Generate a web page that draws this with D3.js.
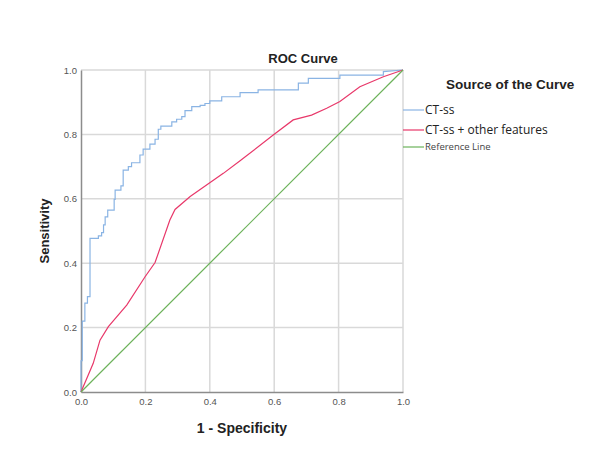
<!DOCTYPE html>
<html>
<head>
<meta charset="utf-8">
<script src="https://cdn.jsdelivr.net/npm/d3@7"></script>
<style>
  body { margin: 0; background: #fff; }
  text { font-family: "Liberation Sans", Arial, sans-serif; }
</style>
</head>
<body>
<div class="chart"></div>
<script>
// ROC points (x = 1 - specificity, y = sensitivity)
const ctssX = [0, 0, 0.004, 0.004, 0.012, 0.012, 0.02, 0.02, 0.028, 0.028, 0.054, 0.054, 0.064, 0.064, 0.07, 0.07, 0.075, 0.075, 0.083, 0.083, 0.103, 0.103, 0.106, 0.106, 0.124, 0.124, 0.131, 0.131, 0.147, 0.147, 0.157, 0.157, 0.183, 0.183, 0.193, 0.193, 0.214, 0.214, 0.23, 0.23, 0.24, 0.24, 0.248, 0.248, 0.282, 0.282, 0.297, 0.297, 0.313, 0.313, 0.323, 0.323, 0.344, 0.344, 0.37, 0.37, 0.385, 0.385, 0.40, 0.40, 0.437, 0.437, 0.494, 0.494, 0.55, 0.55, 0.675, 0.675, 0.706, 0.706, 0.804, 0.804, 0.939, 0.939, 1];
const ctssY = [0, 0.097, 0.097, 0.22, 0.22, 0.276, 0.276, 0.296, 0.296, 0.477, 0.477, 0.485, 0.485, 0.495, 0.495, 0.519, 0.519, 0.544, 0.544, 0.565, 0.565, 0.598, 0.598, 0.627, 0.627, 0.64, 0.64, 0.689, 0.689, 0.70, 0.70, 0.712, 0.712, 0.736, 0.736, 0.754, 0.754, 0.770, 0.770, 0.785, 0.785, 0.816, 0.816, 0.826, 0.826, 0.839, 0.839, 0.847, 0.847, 0.855, 0.855, 0.874, 0.874, 0.886, 0.886, 0.89, 0.89, 0.896, 0.896, 0.904, 0.904, 0.917, 0.917, 0.930, 0.930, 0.938, 0.938, 0.959, 0.959, 0.974, 0.974, 0.984, 0.984, 0.995, 1];

const comboX = [0, 0.038, 0.059, 0.085, 0.142, 0.199, 0.23, 0.276, 0.292, 0.339, 0.442, 0.494, 0.597, 0.659, 0.716, 0.763, 0.804, 0.866, 0.939, 1];
const comboY = [0, 0.089, 0.161, 0.203, 0.27, 0.358, 0.402, 0.534, 0.567, 0.607, 0.679, 0.718, 0.798, 0.845, 0.86, 0.881, 0.902, 0.948, 0.979, 1];

const refX = [0, 1];
const refY = [0, 1];

const ticks = [0, 0.2, 0.4, 0.6, 0.8, 1.0];
const seriesNames = ['CT-ss', 'CT-ss + other features', 'Reference Line'];
const seriesColors = ['#8ab4e4', '#e8386a', '#6cb25a'];

const width = 600, height = 460;
const plot = { left: 81, top: 70, size: 322 };

const svg = d3.select('.chart')
              .append('svg')
              .attr('width', width)
              .attr('height', height);

const x = d3.scaleLinear().domain([0, 1]).range([plot.left, plot.left + plot.size]);
const y = d3.scaleLinear().domain([0, 1]).range([plot.top + plot.size, plot.top]);

// grid lines
svg.append('g')
   .selectAll('line.vx')
   .data(ticks.slice(1))
   .enter()
   .append('line')
   .attr('x1', d => x(d)).attr('x2', d => x(d))
   .attr('y1', y(0)).attr('y2', y(1))
   .attr('stroke', '#d9d9d9').attr('stroke-width', 1.5);

svg.append('g')
   .selectAll('line.hy')
   .data(ticks.slice(1))
   .enter()
   .append('line')
   .attr('x1', x(0)).attr('x2', x(1))
   .attr('y1', d => y(d)).attr('y2', d => y(d))
   .attr('stroke', '#d9d9d9').attr('stroke-width', 1.5);

// axes
const xAxis = d3.axisBottom(x).tickValues(ticks).tickFormat(d3.format('.1f')).tickSize(0).tickPadding(6);
const yAxis = d3.axisLeft(y).tickValues(ticks).tickFormat(d3.format('.1f')).tickSize(0).tickPadding(4);

const gx = svg.append('g').attr('transform', `translate(0,${y(0)})`).call(xAxis);
const gy = svg.append('g').attr('transform', `translate(${x(0)},0)`).call(yAxis);
[gx, gy].forEach(g => {
  g.select('.domain').attr('stroke', '#8c8c8c').attr('stroke-width', 1.5);
  g.selectAll('text').attr('fill', '#555').style('font-size', '9.5px');
});

// curves
const line = d3.line().x(d => x(d[0])).y(d => y(d[1]));
const series = [
  d3.zip(ctssX, ctssY),
  d3.zip(comboX, comboY),
  d3.zip(refX, refY)
];
series.forEach((pts, i) => {
  svg.append('path')
     .datum(pts)
     .attr('d', line)
     .attr('fill', 'none')
     .attr('stroke', seriesColors[i])
     .attr('stroke-width', 1.2);
});

// titles
svg.append('text')
   .attr('x', 303).attr('y', 63)
   .attr('text-anchor', 'middle')
   .style('font-size', '13px').style('font-weight', 'bold')
   .attr('fill', '#222')
   .text('ROC Curve');

svg.append('text')
   .attr('x', x(0.5)).attr('y', 433)
   .attr('text-anchor', 'middle')
   .style('font-size', '14px').style('font-weight', 'bold')
   .attr('fill', '#222')
   .text('1 - Specificity');

svg.append('text')
   .attr('transform', `translate(49,${y(0.5)}) rotate(-90)`)
   .attr('text-anchor', 'middle')
   .style('font-size', '13px').style('font-weight', 'bold')
   .attr('fill', '#222')
   .text('Sensitivity');

// legend
svg.append('text')
   .attr('x', 446).attr('y', 89)
   .style('font-size', '13.5px').style('font-weight', 'bold')
   .attr('fill', '#222')
   .text('Source of the Curve');

const legendY = [110, 130, 147];
const legendSize = ['12px', '12px', '9.5px'];
seriesNames.forEach((name, i) => {
  svg.append('line')
     .attr('x1', 403).attr('x2', 424)
     .attr('y1', legendY[i]).attr('y2', legendY[i])
     .attr('stroke', seriesColors[i]).attr('stroke-width', 1.2);
  svg.append('text')
     .attr('x', 425).attr('y', legendY[i])
     .attr('dy', '0.35em')
     .style('font-family', '"Open Sans", sans-serif')
     .style('font-size', legendSize[i])
     .attr('fill', i < 2 ? '#222' : '#444')
     .text(name);
});
</script>
</body>
</html>
